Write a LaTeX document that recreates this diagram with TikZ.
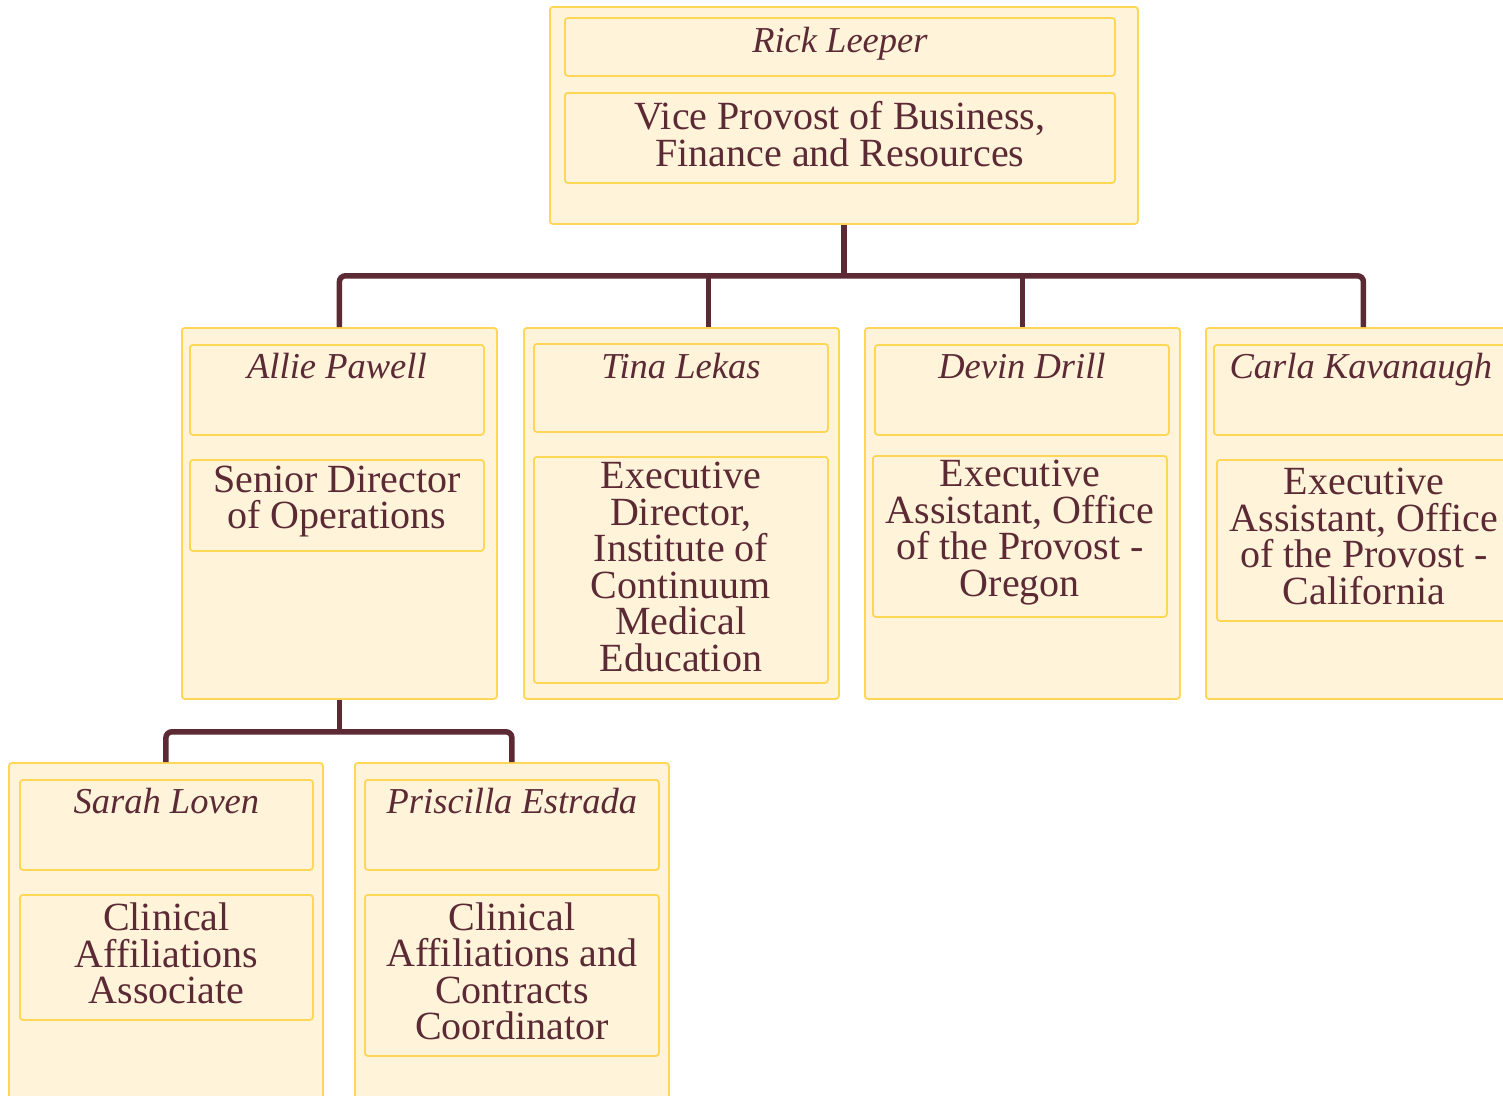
\documentclass[tikz,border=0pt]{standalone}
\usepackage{fontspec}
\setmainfont{Liberation Serif}
\definecolor{boxfill}{HTML}{FFF4DA}
\definecolor{boxline}{HTML}{FFD656}
\definecolor{ink}{HTML}{5C2A35}
\newcommand\orgTitleFont{\fontsize{40}{36.5}\selectfont}
\newcommand\orgNameFont{\fontsize{36.5}{36}\selectfont\itshape}
\tikzset{
  panel/.style={draw=boxline, fill=boxfill, line width=1.8pt, rounded corners=3pt,
    inner sep=0pt, anchor=north west},
  titletext/.style={align=center, text=ink, font=\orgTitleFont, inner sep=0pt},
  nametext/.style={anchor=base, text=ink, font=\orgNameFont, inner sep=0pt},
  conn/.style={draw=ink, line width=5.5pt},
}
\begin{document}
\begin{tikzpicture}[x=1pt,y=-1pt]
\clip (0,0) rectangle (1503,1095);
\fill[white] (0,0) rectangle (1503,1095);

% ---- top ----
\node[panel, minimum width=588pt, minimum height=217pt] (top) at (549,6) {};
\node[panel, minimum width=550pt, minimum height=58pt] (topN) at (564,17) {};
\node[nametext] (topNt) at ([yshift=-35pt]topN.north) {Rick Leeper};
\node[panel, minimum width=550pt, minimum height=90pt] (topT) at (564,92) {};
\node[titletext] (topTt) at ([yshift=4pt]topT.center) {Vice Provost of Business,\\Finance and Resources};

% ---- second row ----
\node[panel, minimum width=315pt, minimum height=371pt] (allie) at (181,327) {};
\node[panel, minimum width=294pt, minimum height=90pt] (allieN) at (189,344) {};
\node[nametext] (allieNt) at ([yshift=-34pt]allieN.north) {Allie Pawell};
\node[panel, minimum width=294pt, minimum height=91pt] (allieT) at (189,459) {};
\node[titletext] (allieTt) at ([yshift=4pt]allieT.center) {Senior Director\\of Operations};

\node[panel, minimum width=315pt, minimum height=371pt] (tina) at (523,327) {};
\node[panel, minimum width=294pt, minimum height=88pt] (tinaN) at (533,343) {};
\node[nametext] (tinaNt) at ([yshift=-35pt]tinaN.north) {Tina Lekas};
\node[panel, minimum width=294pt, minimum height=226pt] (tinaT) at (533,456) {};
\node[titletext] (tinaTt) at ([yshift=3pt]tinaT.center)
  {Executive\\Director,\\Institute of\\Continuum\\Medical\\Education};

\node[panel, minimum width=315pt, minimum height=371pt] (devin) at (864,327) {};
\node[panel, minimum width=294pt, minimum height=90pt] (devinN) at (874,344) {};
\node[nametext] (devinNt) at ([yshift=-34pt]devinN.north) {Devin Drill};
\node[panel, minimum width=294pt, minimum height=161pt] (devinT) at (872,455) {};
\node[titletext] (devinTt) at ([yshift=4pt]devinT.center)
  {Executive\\Assistant, Office\\of the Provost -\\Oregon};

\node[panel, minimum width=315pt, minimum height=371pt] (carla) at (1205,327) {};
\node[panel, minimum width=294pt, minimum height=90pt] (carlaN) at (1213,344) {};
\node[nametext] (carlaNt) at ([yshift=-34pt]carlaN.north) {Carla Kavanaugh};
\node[panel, minimum width=294pt, minimum height=161pt] (carlaT) at (1216,459) {};
\node[titletext] (carlaTt) at ([yshift=4pt]carlaT.center)
  {Executive\\Assistant, Office\\of the Provost -\\California};

% ---- third row ----
\node[panel, minimum width=314pt, minimum height=371pt] (sarah) at (8,762) {};
\node[panel, minimum width=293pt, minimum height=90pt] (sarahN) at (19,779) {};
\node[nametext] (sarahNt) at ([yshift=-34pt]sarahN.north) {Sarah Loven};
\node[panel, minimum width=293pt, minimum height=125pt] (sarahT) at (19,894) {};
\node[titletext] (sarahTt) at ([yshift=4pt]sarahT.center)
  {Clinical\\Affiliations\\Associate};

\node[panel, minimum width=314pt, minimum height=371pt] (prisc) at (354,762) {};
\node[panel, minimum width=294pt, minimum height=90pt] (priscN) at (364,779) {};
\node[nametext] (priscNt) at ([yshift=-34pt]priscN.north) {Priscilla Estrada};
\node[panel, minimum width=294pt, minimum height=161pt] (priscT) at (364,894) {};
\node[titletext] (priscTt) at ([yshift=4pt]priscT.center)
  {Clinical\\Affiliations and\\Contracts\\Coordinator};

% ---- connectors ----
\coordinate (bus1) at ([yshift=-51pt]top.south);
\draw[conn] (top.south) -- (bus1);
\draw[conn, rounded corners=6pt] (allie.north) |- (bus1) -| (carla.north);
\draw[conn] ([xshift=27pt]tina.north) -- ([xshift=27pt]tina.north |- bus1);
\draw[conn] (devin.north) -- (devin.north |- bus1);

\coordinate (bus2) at ([yshift=-32pt]allie.south);
\draw[conn] (allie.south) -- (bus2);
\draw[conn, rounded corners=6pt] (sarah.north) |- (bus2) -| (prisc.north);
\end{tikzpicture}
\end{document}
